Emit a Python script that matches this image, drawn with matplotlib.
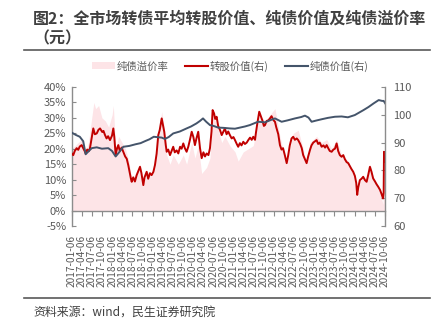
import numpy as np
import pandas as pd
import matplotlib
matplotlib.use('Agg')
import matplotlib.pyplot as plt
from matplotlib.patches import Patch
from matplotlib.lines import Line2D

plt.rcParams['font.family'] = ['Noto Sans CJK SC', 'DejaVu Sans']

# 转股价值（右轴）
conv_dates = [
    '2017-01-06', '2017-01-20', '2017-02-03', '2017-02-20', '2017-03-06', '2017-03-20', '2017-04-06',
    '2017-04-20', '2017-05-05', '2017-05-12', '2017-05-26', '2017-06-09', '2017-06-20', '2017-07-05',
    '2017-07-20', '2017-08-03', '2017-08-20', '2017-09-05', '2017-09-19', '2017-10-09', '2017-10-20',
    '2017-11-03', '2017-11-17', '2017-12-01', '2017-12-18', '2018-01-05', '2018-01-17', '2018-01-26',
    '2018-02-07', '2018-02-20', '2018-03-03', '2018-03-16', '2018-04-02', '2018-04-17', '2018-05-04',
    '2018-05-18', '2018-06-01', '2018-06-15', '2018-06-25', '2018-07-02', '2018-07-16', '2018-07-31',
    '2018-08-16', '2018-08-31', '2018-09-15', '2018-09-28', '2018-10-15', '2018-10-26', '2018-11-14',
    '2018-11-28', '2018-12-14', '2018-12-29', '2019-01-14', '2019-01-28', '2019-02-12', '2019-02-27',
    '2019-03-12', '2019-03-30', '2019-04-12', '2019-04-22', '2019-05-06', '2019-05-14', '2019-05-28',
    '2019-06-13', '2019-06-28', '2019-07-12', '2019-07-26', '2019-08-12', '2019-08-27', '2019-09-12',
    '2019-09-26', '2019-10-11', '2019-10-25', '2019-11-10', '2019-11-25', '2019-12-10', '2019-12-26',
    '2020-01-10', '2020-01-24', '2020-02-07', '2020-02-23', '2020-03-10', '2020-03-25', '2020-04-10',
    '2020-04-24', '2020-05-09', '2020-05-25', '2020-06-08', '2020-06-22', '2020-07-02', '2020-07-15',
    '2020-07-25', '2020-08-07', '2020-08-21', '2020-09-07', '2020-09-22', '2020-10-08', '2020-10-21',
    '2020-11-05', '2020-11-20', '2020-12-05', '2020-12-21', '2021-01-06', '2021-01-20', '2021-02-05',
    '2021-02-18', '2021-03-05', '2021-03-20', '2021-04-05', '2021-04-20', '2021-05-06', '2021-05-20',
    '2021-06-05', '2021-06-20', '2021-07-04', '2021-07-20', '2021-07-28', '2021-08-10', '2021-08-27',
    '2021-09-10', '2021-09-24', '2021-10-08', '2021-10-18', '2021-11-02', '2021-11-18', '2021-12-02',
    '2021-12-16', '2022-01-04', '2022-01-16', '2022-01-28', '2022-02-15', '2022-03-02', '2022-03-16',
    '2022-03-30', '2022-04-15', '2022-05-02', '2022-05-16', '2022-05-30', '2022-06-15', '2022-06-30',
    '2022-07-15', '2022-08-01', '2022-08-14', '2022-09-01', '2022-09-15', '2022-09-28', '2022-10-14',
    '2022-10-29', '2022-11-12', '2022-11-28', '2022-12-12', '2022-12-28', '2023-01-13', '2023-01-27',
    '2023-02-10', '2023-02-24', '2023-03-14', '2023-03-30', '2023-04-14', '2023-04-28', '2023-05-12',
    '2023-05-26', '2023-06-12', '2023-06-28', '2023-07-12', '2023-07-27', '2023-08-10', '2023-08-25',
    '2023-09-10', '2023-09-25', '2023-10-10', '2023-10-25', '2023-11-09', '2023-11-24', '2023-12-08',
    '2023-12-24', '2024-01-08', '2024-01-20', '2024-01-29', '2024-02-08', '2024-02-22', '2024-03-08',
    '2024-03-23', '2024-04-08', '2024-04-23', '2024-05-08', '2024-05-23', '2024-06-06', '2024-06-21',
    '2024-07-08', '2024-07-22', '2024-08-06', '2024-08-22', '2024-09-05', '2024-09-18', '2024-09-24',
    '2024-09-27', '2024-09-30', '2024-10-04', '2024-10-08',
]
conv_value = [
    86.1, 85.5, 87.0, 88.0, 87.4, 88.6, 89.1,
    88.0, 86.8, 86.1, 87.5, 86.9, 88.0, 91.5,
    95.1, 93.0, 93.3, 94.6, 95.1, 93.8, 94.2,
    92.7, 91.5, 92.3, 90.9, 92.5, 95.1, 92.0,
    85.5, 88.0, 89.1, 87.0, 88.2, 86.7, 85.0,
    84.2, 81.9, 79.0, 77.0, 75.9, 77.5, 76.0,
    78.3, 79.8, 81.3, 79.0, 74.7, 77.5, 79.5,
    77.0, 79.0, 78.3, 79.5, 81.9, 86.0, 92.7,
    94.5, 98.7, 96.0, 93.9, 89.0, 86.7, 87.5,
    85.5, 87.0, 88.5, 86.5, 87.2, 86.1, 88.5,
    87.8, 89.7, 88.0, 86.7, 88.5, 91.0, 93.9,
    92.0, 89.1, 91.5, 93.9, 88.0, 84.4, 86.5,
    85.0, 86.1, 85.5, 88.0, 94.0, 101.7, 100.5,
    98.5, 99.3, 96.0, 94.5, 92.7, 94.0, 95.1,
    93.0, 94.0, 92.7, 91.5, 92.0, 90.9, 89.5,
    88.5, 89.8, 89.0, 90.3, 89.5, 90.0, 90.9,
    91.8, 91.0, 92.1, 91.0, 93.5, 97.0, 101.1,
    99.5, 98.0, 96.0, 96.3, 97.8, 98.0, 98.7,
    99.5, 98.0, 97.5, 95.5, 93.0, 89.1, 87.5,
    88.0, 85.5, 82.6, 85.5, 89.0, 91.5, 92.1,
    91.0, 91.5, 90.9, 89.5, 88.0, 85.5, 84.0,
    82.6, 85.0, 87.3, 89.0, 90.0, 90.5, 90.9,
    89.5, 90.0, 88.5, 89.0, 88.2, 89.1, 88.0,
    87.0, 86.7, 87.5, 87.8, 89.7, 87.0, 85.5,
    84.9, 85.5, 84.0, 83.0, 82.6, 81.5, 80.5,
    79.5, 78.0, 75.5, 71.2, 74.0, 76.5, 77.0,
    77.7, 76.5, 75.9, 78.5, 81.3, 79.5, 77.1,
    76.0, 75.0, 74.1, 73.0, 71.5, 69.9, 72.0,
    86.7, 86.0, 84.5, 83.1,
]

# 纯债价值（右轴）
bond_dates = [
    '2017-01-06', '2017-02-10', '2017-03-20', '2017-04-20', '2017-05-12', '2017-06-05', '2017-07-06',
    '2017-08-20', '2017-10-06', '2017-12-02', '2018-01-05', '2018-02-07', '2018-03-10', '2018-04-17',
    '2018-06-10', '2018-08-06', '2018-09-20', '2018-11-04', '2018-12-10', '2019-01-17', '2019-03-30',
    '2019-04-28', '2019-06-01', '2019-07-12', '2019-09-10', '2019-11-10', '2019-12-20', '2020-02-07',
    '2020-03-10', '2020-04-06', '2020-05-05', '2020-06-08', '2020-07-10', '2020-08-21', '2020-10-10',
    '2020-12-05', '2021-01-20', '2021-03-06', '2021-04-20', '2021-06-03', '2021-08-16', '2021-10-18',
    '2021-12-01', '2022-01-16', '2022-03-17', '2022-05-10', '2022-07-16', '2022-09-10', '2022-10-14',
    '2022-11-15', '2022-12-13', '2023-01-20', '2023-03-14', '2023-05-10', '2023-07-12', '2023-09-10',
    '2023-11-06', '2024-01-07', '2024-03-26', '2024-05-10', '2024-06-25', '2024-08-10', '2024-09-10',
    '2024-09-24', '2024-10-08',
]
bond_value = [
    93.6, 92.8, 92.1, 90.5, 85.8, 86.8, 88.0,
    88.3, 87.8, 88.0, 87.0, 85.0, 86.5, 88.5,
    88.8, 89.4, 89.8, 90.6, 91.2, 92.1, 91.8,
    91.3, 92.0, 93.3, 94.0, 95.1, 95.8, 96.9,
    97.8, 98.7, 97.5, 96.3, 96.0, 95.4, 95.3,
    95.1, 95.0, 95.4, 95.8, 96.3, 97.5, 97.3,
    98.0, 98.7, 97.5, 98.0, 98.7, 99.2, 99.7,
    99.0, 97.5, 97.9, 98.4, 98.9, 99.3, 99.4,
    99.1, 99.9, 101.7, 102.8, 104.1, 105.3, 105.0,
    105.0, 104.1,
]

# 纯债溢价率（左轴，%）
prem_dates = [
    '2017-01-06', '2017-02-06', '2017-03-06', '2017-04-06', '2017-05-12', '2017-06-06', '2017-07-06',
    '2017-07-25', '2017-08-10', '2017-09-06', '2017-10-06', '2017-11-06', '2017-12-06', '2018-01-06',
    '2018-01-17', '2018-02-07', '2018-03-06', '2018-04-06', '2018-05-06', '2018-06-06', '2018-07-02',
    '2018-08-06', '2018-09-15', '2018-10-15', '2018-11-14', '2018-12-29', '2019-01-28', '2019-02-27',
    '2019-03-30', '2019-04-22', '2019-05-14', '2019-06-13', '2019-07-12', '2019-08-27', '2019-10-11',
    '2019-11-10', '2019-12-26', '2020-01-24', '2020-02-23', '2020-03-25', '2020-05-09', '2020-06-08',
    '2020-07-02', '2020-08-07', '2020-09-22', '2020-10-21', '2020-12-05', '2021-01-20', '2021-02-18',
    '2021-04-05', '2021-05-20', '2021-07-04', '2021-08-27', '2021-10-18', '2021-12-02', '2022-01-16',
    '2022-03-02', '2022-05-02', '2022-06-30', '2022-08-14', '2022-09-28', '2022-10-29', '2022-11-28',
    '2023-01-27', '2023-03-14', '2023-04-28', '2023-06-12', '2023-07-27', '2023-09-10', '2023-11-09',
    '2023-12-24', '2024-01-29', '2024-02-22', '2024-03-23', '2024-04-23', '2024-05-23', '2024-06-21',
    '2024-08-06', '2024-09-18', '2024-09-27', '2024-10-08',
]
prem_value = [
    20, 21, 22, 23, 19, 22, 30,
    35, 33, 34, 30, 29, 27, 31,
    34, 20, 24, 22, 20, 16, 10,
    12, 15, 9, 13, 11, 14, 25,
    32, 27, 18, 15, 18, 15, 18,
    15, 22, 17, 21, 12, 14, 17,
    31, 28, 22, 24, 21, 19, 16,
    19, 20, 21, 31, 29, 31, 33,
    24, 15, 25, 26, 20, 15, 22,
    24, 22, 23, 20, 23, 18, 16,
    12, 4, 9, 11, 10, 15, 11,
    8, 2, 14, 12,
]

tick_labels = [f'{y}-{m:02d}-06' for y in range(2017, 2025) for m in (1, 4, 7, 10)]

conv_dates = pd.to_datetime(conv_dates)
bond_dates = pd.to_datetime(bond_dates)
prem_dates = pd.to_datetime(prem_dates)
tick_dates = pd.to_datetime(tick_labels)

red = '#C00000'
navy = '#44546A'
pink = '#FDE4E7'
grey = '#595959'
axis_c = '#8C8C8C'

fig = plt.figure(figsize=(4.35, 3.3), dpi=100)
ax = fig.add_axes([71.7 / 435, 1 - 226 / 330, (385 - 71.7) / 435, (226 - 87) / 330])
ax2 = ax.twinx()

ax.fill_between(prem_dates, 0, np.array(prem_value) / 100, color=pink, lw=0)
ax2.plot(conv_dates, conv_value, color=red, lw=1.4)
ax2.plot(bond_dates, bond_value, color=navy, lw=1.4)

ax.set_ylim(-0.05, 0.40)
ax.set_yticks(np.arange(-0.05, 0.401, 0.05))
ax.set_yticklabels([f'{int(round(v * 100))}%' for v in np.arange(-0.05, 0.401, 0.05)])
ax2.set_ylim(60, 110)
ax2.set_yticks([60, 70, 80, 90, 100, 110])

ax.set_xlim(tick_dates[0], tick_dates[-1])
ax.set_xticks(tick_dates)
ax.set_xticklabels(tick_labels)

for a in (ax, ax2):
    a.spines['top'].set_visible(False)
    for s in a.spines.values():
        s.set_color(axis_c)
        s.set_linewidth(1.0)
ax.spines['right'].set_visible(False)
ax2.spines['left'].set_visible(False)
ax2.spines['bottom'].set_visible(False)
ax.spines['bottom'].set_position(('data', 0))

ax.tick_params(axis='x', direction='out', length=3.5, color=axis_c, pad=14,
               labelsize=7.3, labelcolor=grey, labelrotation=90)
ax.tick_params(axis='y', direction='in', length=3, color=axis_c, pad=4,
               labelsize=8, labelcolor=grey)
ax2.tick_params(axis='y', direction='in', length=3, color=axis_c, pad=6,
                labelsize=8, labelcolor=grey)

# 图例
handles = [Patch(facecolor=pink, edgecolor='none'),
           Line2D([0], [0], color=red, lw=1.5),
           Line2D([0], [0], color=navy, lw=1.5)]
fig.legend(handles, ['纯债溢价率', '转股价值(右)', '纯债价值(右)'], loc='center',
           bbox_to_anchor=(230 / 435, 1 - 66 / 330), ncol=3, frameon=False,
           fontsize=7.5, labelcolor=grey, handlelength=2.2, handletextpad=0.15,
           columnspacing=1.6)

# 标题与来源
fig.text(33 / 435, 1 - 19 / 330, '图2：全市场转债平均转股价值、纯债价值及纯债溢价率',
         fontsize=11.5, fontweight='bold', color='#404040', va='center', ha='left')
fig.text(33 / 435, 1 - 38 / 330, '（元）',
         fontsize=11.5, fontweight='bold', color='#404040', va='center', ha='left')
fig.add_artist(Line2D([24 / 435, 430 / 435], [1 - 49.5 / 330] * 2, color='#595959', lw=1.2))
fig.add_artist(Line2D([24 / 435, 430 / 435], [1 - 297.5 / 330] * 2, color='#595959', lw=1.2))
fig.text(33 / 435, 1 - 312 / 330, '资料来源：wind，民生证券研究院',
         fontsize=8.6, color='#404040', va='center', ha='left')

fig.savefig('out.png', dpi=100)
